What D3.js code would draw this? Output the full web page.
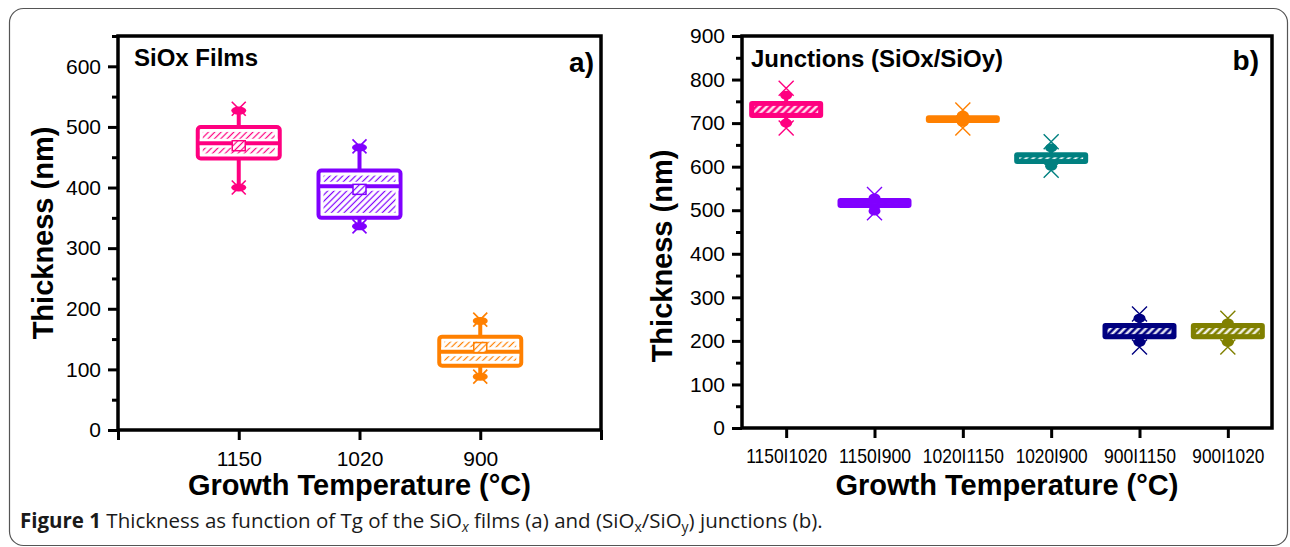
<!DOCTYPE html>
<html>
<head>
<meta charset="utf-8">
<script src="https://cdn.jsdelivr.net/npm/d3@7"></script>
<style>
  body { margin: 0; background: #fff; }
  svg text { font-family: "Liberation Sans", Arial, sans-serif; fill: #000; }
</style>
</head>
<body>
<svg id="fig" width="1290" height="547"></svg>
<script>
// panel a) SiOx films
const catsA = ["1150", "1020", "900"];
const colorsA = ["#ff0080", "#8000ff", "#ff8000"];
const q1A = [448, 350, 106];
const q3A = [500, 428, 154];
const medA = [473, 402, 129];
const meanA = [469, 397, 136];
const loA = [400, 336, 88];
const hiA = [527, 466, 180];
const xLoA = [400, 336, 88];
const xHiA = [530, 468, 182];
const yTicksA = [0, 100, 200, 300, 400, 500, 600];

// panel b) junctions
const catsB = ["1150I1020", "1150I900", "1020I1150", "1020I900", "900I1150", "900I1020"];
const colorsB = ["#ff0080", "#8000ff", "#ff8000", "#008080", "#000080", "#808000"];
const q1B = [712, 505, 700, 606, 204, 204];
const q3B = [751, 528, 718, 633, 241, 241];
const medB = [732, 517, 709, 622, 225, 227];
const loB = [700, 498, 702, 601, 197, 197];
const hiB = [764, 528, 718, 643, 252, 241];
const xLoB = [689, 494, 689, 592, 186, 186];
const xHiB = [780, 536, 730, 657, 262, 252];
const yTicksB = [0, 100, 200, 300, 400, 500, 600, 700, 800, 900];

const svg = d3.select('#fig');
const defs = svg.append('defs');

// diagonal hatch "///"
function hatch(id, color, bg, gap, w) {
    const p = defs.append('pattern')
        .attr('id', id)
        .attr('patternUnits', 'userSpaceOnUse')
        .attr('width', gap)
        .attr('height', gap)
        .attr('patternTransform', 'rotate(45)');
    p.append('rect').attr('width', gap).attr('height', gap).attr('fill', bg);
    p.append('line')
        .attr('x1', gap / 2).attr('x2', gap / 2)
        .attr('y1', 0).attr('y2', gap)
        .attr('stroke', color).attr('stroke-width', w);
}
colorsA.forEach((c, i) => hatch('hA' + i, c, '#fff', 4.5, 1.2));
colorsB.forEach((c, i) => hatch('hB' + i, '#fff', c, 5, 2.2));

// outer figure border
svg.append('rect')
    .attr('x', 9.5).attr('y', 8.5)
    .attr('width', 1278).attr('height', 537)
    .attr('rx', 14)
    .attr('fill', 'none')
    .attr('stroke', '#555')
    .attr('stroke-width', 1.2);

function xMark(g, cx, cy, s, col, w) {
    g.append('path')
        .attr('d', `M${cx - s},${cy - s}L${cx + s},${cy + s}M${cx + s},${cy - s}L${cx - s},${cy + s}`)
        .attr('stroke', col)
        .attr('stroke-width', w)
        .attr('fill', 'none');
}

function styleAxis(g) {
    g.select('.domain').remove();
    g.selectAll('.tick line').attr('stroke', '#000').attr('stroke-width', 3);
}

// ---------- panel a ----------
const plotA = { left: 118, right: 601, top: 36, bottom: 430 };
const xA = d3.scaleLinear().domain([0, 4]).range([plotA.left, plotA.right]);
const yA = d3.scaleLinear().domain([0, 650]).range([plotA.bottom, plotA.top]);
const boxWA = 82;

svg.append('g')
    .attr('transform', `translate(${plotA.left},0)`)
    .call(d3.axisLeft(yA).tickValues(d3.range(50, 651, 100)).tickSize(6).tickFormat(''))
    .call(styleAxis);
svg.append('g')
    .attr('transform', `translate(${plotA.left},0)`)
    .call(d3.axisLeft(yA).tickValues(yTicksA).tickSize(10).tickPadding(7))
    .call(styleAxis)
    .selectAll('text').attr('font-size', 21).attr('font-family', '"Liberation Sans", Arial, sans-serif');
svg.append('g')
    .attr('transform', `translate(0,${plotA.bottom})`)
    .call(d3.axisBottom(xA).tickValues([0, 1, 2, 3, 4]).tickSize(10).tickPadding(11)
        .tickFormat(d => catsA[d - 1] || ''))
    .call(styleAxis)
    .selectAll('text').attr('font-size', 21).attr('font-family', '"Liberation Sans", Arial, sans-serif');

catsA.forEach((c, i) => {
    const cx = xA(i + 1), col = colorsA[i];
    const g = svg.append('g');
    const by = yA(q3A[i]), bh = yA(q1A[i]) - yA(q3A[i]), bx = cx - boxWA / 2;
    g.append('line').attr('x1', cx).attr('x2', cx)
        .attr('y1', yA(hiA[i])).attr('y2', yA(loA[i]))
        .attr('stroke', col).attr('stroke-width', 4);
    g.append('rect')
        .attr('x', bx).attr('y', by).attr('width', boxWA).attr('height', bh)
        .attr('rx', 3).attr('fill', '#fff')
        .attr('stroke', col).attr('stroke-width', 4);
    g.append('rect')
        .attr('x', bx + 5).attr('y', by + 5).attr('width', boxWA - 10).attr('height', bh - 10)
        .attr('fill', `url(#hA${i})`);
    g.append('line').attr('x1', bx + 2).attr('x2', bx + boxWA - 2)
        .attr('y1', yA(medA[i])).attr('y2', yA(medA[i]))
        .attr('stroke', '#fff').attr('stroke-width', 9);
    g.append('line').attr('x1', bx).attr('x2', bx + boxWA)
        .attr('y1', yA(medA[i])).attr('y2', yA(medA[i]))
        .attr('stroke', col).attr('stroke-width', 4);
    g.append('rect')
        .attr('x', cx - 6.5).attr('y', yA(meanA[i]) - 5).attr('width', 13).attr('height', 10)
        .attr('fill', `url(#hA${i})`).attr('stroke', col).attr('stroke-width', 1.5);
    [hiA[i], loA[i]].forEach(v => {
        g.append('ellipse').attr('cx', cx).attr('cy', yA(v))
            .attr('rx', 7.5).attr('ry', 4).attr('fill', col);
    });
    [xHiA[i], xLoA[i]].forEach(v => xMark(g, cx, yA(v), 7, col, 1.6));
});

svg.append('rect')
    .attr('x', plotA.left).attr('y', plotA.top)
    .attr('width', plotA.right - plotA.left).attr('height', plotA.bottom - plotA.top)
    .attr('fill', 'none').attr('stroke', '#000').attr('stroke-width', 3.5);

svg.append('text').attr('x', 134).attr('y', 66)
    .attr('font-size', 24).attr('font-weight', 'bold').text('SiOx Films');
svg.append('text').attr('x', 594).attr('y', 72).attr('text-anchor', 'end')
    .attr('font-size', 28).attr('font-weight', 'bold').text('a)');
svg.append('text')
    .attr('transform', `translate(53,${(plotA.top + plotA.bottom) / 2}) rotate(-90)`)
    .attr('text-anchor', 'middle')
    .attr('font-size', 29).attr('font-weight', 'bold').text('Thickness (nm)');
svg.append('text')
    .attr('x', (plotA.left + plotA.right) / 2).attr('y', 495)
    .attr('text-anchor', 'middle')
    .attr('font-size', 29).attr('font-weight', 'bold').text('Growth Temperature (°C)');

// ---------- panel b ----------
const plotB = { left: 742, right: 1272, top: 36, bottom: 428 };
const xB = d3.scaleLinear().domain([0.5, 6.5]).range([plotB.left, plotB.right]);
const yB = d3.scaleLinear().domain([0, 900]).range([plotB.bottom, plotB.top]);
const boxWB = 74;

svg.append('g')
    .attr('transform', `translate(${plotB.left},0)`)
    .call(d3.axisLeft(yB).tickValues(d3.range(50, 900, 100)).tickSize(6).tickFormat(''))
    .call(styleAxis);
svg.append('g')
    .attr('transform', `translate(${plotB.left},0)`)
    .call(d3.axisLeft(yB).tickValues(yTicksB).tickSize(10).tickPadding(7))
    .call(styleAxis)
    .selectAll('text').attr('font-size', 21).attr('font-family', '"Liberation Sans", Arial, sans-serif');
// condensed category labels
svg.append('g')
    .attr('transform', `translate(0,${plotB.bottom})`)
    .call(d3.axisBottom(xB).tickValues(d3.range(1, 7)).tickSize(10).tickPadding(10)
        .tickFormat(d => catsB[d - 1]))
    .call(styleAxis)
    .selectAll('text')
    .attr('font-size', 21)
    .attr('font-family', '"Liberation Sans", Arial, sans-serif')
    .attr('textLength', d => catsB[d - 1].length * 9)
    .attr('lengthAdjust', 'spacingAndGlyphs');

catsB.forEach((c, i) => {
    const cx = xB(i + 1), col = colorsB[i];
    const g = svg.append('g');
    const by = yB(q3B[i]), bh = yB(q1B[i]) - yB(q3B[i]), bx = cx - boxWB / 2;
    g.append('line').attr('x1', cx).attr('x2', cx)
        .attr('y1', yB(hiB[i])).attr('y2', yB(loB[i]))
        .attr('stroke', col).attr('stroke-width', 4);
    g.append('rect')
        .attr('x', bx).attr('y', by).attr('width', boxWB).attr('height', bh)
        .attr('rx', 3).attr('fill', col);
    const ih = bh - 10;
    if (ih > 0) {
        const my = by + bh / 2;
        g.append('rect')
            .attr('x', bx + 5).attr('y', my - ih / 2).attr('width', boxWB - 10).attr('height', ih)
            .attr('fill', `url(#hB${i})`);
    }
    [hiB[i], loB[i]].forEach(v => {
        g.append('ellipse').attr('cx', cx).attr('cy', yB(v))
            .attr('rx', 6).attr('ry', 4.5).attr('fill', col);
    });
    [xHiB[i], xLoB[i]].forEach(v => xMark(g, cx, yB(v), 7.5, col, 1.4));
});

svg.append('rect')
    .attr('x', plotB.left).attr('y', plotB.top)
    .attr('width', plotB.right - plotB.left).attr('height', plotB.bottom - plotB.top)
    .attr('fill', 'none').attr('stroke', '#000').attr('stroke-width', 3.5);

svg.append('text').attr('x', 751).attr('y', 67)
    .attr('font-size', 24).attr('font-weight', 'bold').text('Junctions (SiOx/SiOy)');
svg.append('text').attr('x', 1259).attr('y', 70).attr('text-anchor', 'end')
    .attr('font-size', 28).attr('font-weight', 'bold').text('b)');
svg.append('text')
    .attr('transform', 'translate(672,256) rotate(-90)')
    .attr('text-anchor', 'middle')
    .attr('font-size', 29).attr('font-weight', 'bold').text('Thickness (nm)');
svg.append('text')
    .attr('x', (plotB.left + plotB.right) / 2).attr('y', 495)
    .attr('text-anchor', 'middle')
    .attr('font-size', 29).attr('font-weight', 'bold').text('Growth Temperature (°C)');

// ---------- caption ----------
const cap = svg.append('text').attr('x', 20).attr('y', 528)
    .attr('font-size', 20.5)
    .style('font-family', '"Open Sans", sans-serif')
    .style('fill', '#1a1a1a');
cap.append('tspan').attr('font-weight', 'bold').text('Figure 1');
cap.append('tspan').text(' Thickness as function of Tg of the SiO');
cap.append('tspan').attr('font-style', 'italic').attr('font-size', 14).attr('dy', 4).text('x');
cap.append('tspan').attr('dy', -4).text(' films (a) and (SiO');
cap.append('tspan').attr('font-size', 14).attr('dy', 4).text('x');
cap.append('tspan').attr('dy', -4).text('/SiO');
cap.append('tspan').attr('font-size', 14).attr('dy', 4).text('y');
cap.append('tspan').attr('dy', -4).text(') junctions (b).');
</script>
</body>
</html>
